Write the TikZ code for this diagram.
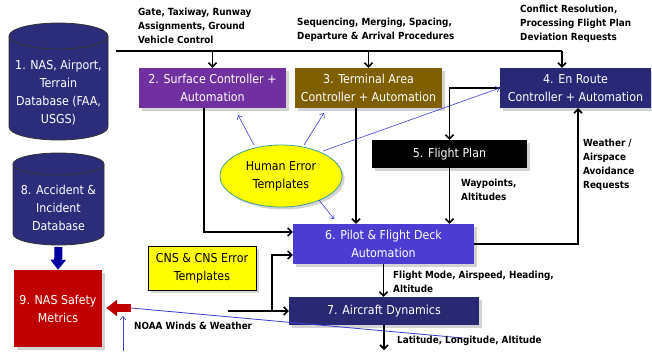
\documentclass[tikz,border=0pt]{standalone}
\usepackage{fontspec}
\setmainfont{DejaVu Sans Condensed}
\usetikzlibrary{arrows.meta,shapes.geometric,shadows,calc}
\definecolor{cylc}{RGB}{43,45,122}
\definecolor{c2}{RGB}{112,48,160}
\definecolor{c3}{RGB}{127,96,0}
\definecolor{c4}{RGB}{40,40,118}
\definecolor{c6}{RGB}{76,60,210}
\definecolor{c7}{RGB}{40,40,115}
\definecolor{c9}{RGB}{192,0,0}
\definecolor{yel}{RGB}{255,255,0}
\definecolor{teal2}{RGB}{60,160,150}
\definecolor{thinblue}{RGB}{60,60,210}
\definecolor{navyar}{RGB}{0,0,160}
\tikzset{
  base/.style={font=\fontsize{12.3}{18}\selectfont, align=center, inner sep=0pt},
  shad/.style={drop shadow={shadow xshift=2.5pt,shadow yshift=-2.5pt,opacity=0.35}},
  box/.style={base, rectangle, text=white, shad},
  lbl/.style={font=\bfseries\fontsize{9.8}{14}\selectfont, align=left, anchor=west, inner sep=0pt},
  conn/.style={draw=black, line width=1.6pt, -{Straight Barb[length=4pt,width=8pt]}},
  plain/.style={draw=black, line width=1.6pt},
  bl/.style={draw=thinblue, line width=0.6pt, -{Straight Barb[length=3.5pt,width=6pt]}},
  blplain/.style={draw=thinblue, line width=0.8pt},
  cylfill/.style={fill=cylc, draw=black!80, line width=0.8pt},
  cylline/.style={draw=black!80, line width=0.8pt},
  cyltext/.style={base, text=white},
}
\begin{document}
\begin{tikzpicture}[x=1pt,y=-1pt]
\useasboundingbox (0,0) rectangle (652,351);

% cylinder 1
\path[cylfill] (9,36) -- (9,127) arc[start angle=180,end angle=360,x radius=49.5pt,y radius=13pt]
  -- (108,36) arc[start angle=0,end angle=180,x radius=49.5pt,y radius=13pt] -- cycle;
\draw[cylline] (9,36) arc[start angle=180,end angle=360,x radius=49.5pt,y radius=13pt];
\node[cyltext] (n1) at (58.5,92.5) {1. NAS, Airport,\\Terrain\\Database (FAA,\\USGS)};

% cylinder 8
\path[cylfill] (13,164) -- (13,234) arc[start angle=180,end angle=360,x radius=45.5pt,y radius=11pt]
  -- (104,164) arc[start angle=0,end angle=180,x radius=45.5pt,y radius=11pt] -- cycle;
\draw[cylline] (13,164) arc[start angle=180,end angle=360,x radius=45.5pt,y radius=11pt];
\node[cyltext] (n8) at (58.5,208) {8. Accident \&\\Incident\\Database};
\coordinate (c8b) at (58.5,247);

% boxes
\node[box, fill=c2, minimum width=147pt, minimum height=40pt] (n2) at (212.5,88) {2. Surface Controller +\\Automation};
\node[box, fill=c3, minimum width=147pt, minimum height=40pt] (n3) at (368.5,88) {3. Terminal Area\\Controller + Automation};
\node[box, fill=c4, minimum width=151pt, minimum height=40pt] (n4) at (575.5,88) {4. En Route\\Controller + Automation};
\node[box, fill=black, minimum width=155pt, minimum height=28pt] (n5) at (449.5,154) {5. Flight Plan};
\node[box, fill=c6, minimum width=181pt, minimum height=40pt] (n6) at (383.5,244) {6. Pilot \& Flight Deck\\Automation};
\node[box, fill=c7, minimum width=190pt, minimum height=28pt] (n7) at (384,311) {7. Aircraft Dynamics};
\node[box, fill=c9, minimum width=88pt, minimum height=77pt] (n9) at (58,308.5) {9. NAS Safety\\Metrics};
\node[base, rectangle, fill=yel, draw=black, line width=0.6pt, shad, minimum width=108pt, minimum height=44pt] (cns) at (202,268) {CNS \& CNS Error\\Templates};
\node[base, ellipse, fill=yel, draw=teal2, line width=0.8pt, shad, minimum width=122pt, minimum height=62pt] (he) at (281,176) {Human Error\\Templates};

% top bus
\coordinate (tl) at (116,51);
\coordinate (tr) at (562,51);
\draw[plain] (tl) -- (tr);
\draw[conn] (n2.north |- tl) -- (n2.north);
\draw[conn] (n3.north |- tl) -- (n3.north);
\draw[conn] (tr) -- (tr |- n4.north);

% connectors
\coordinate (s2) at (204,108);
\coordinate (s3) at (356,108);
\draw[conn] (s2) |- (n6.west |- 0,232);
\draw[conn] (s3) -- (s3 |- n6.north);
\draw[conn] (n4.west) -| (n5.north);
\draw[conn] (n5.south) -- (n5.south |- n6.north);
\coordinate (u4) at (578,108);
\draw[conn] (n6.east) -| (u4);
\draw[conn] (n6.south) -- (n6.south |- n7.north);
\coordinate (out7) at (384,350);
\draw[conn] (n7.south) -- (out7);
\coordinate (nw) at (228,311);
\coordinate (jn) at (272,311);
\draw[conn] (nw) -- (n7.west);
\draw[conn] (jn) |- (n6.west |- 0,255);

% thin blue
\coordinate (e2) at (238,115);
\coordinate (e3) at (324,113);
\coordinate (e6) at (334,219);
\draw[bl] (254,145) -- (e2);
\draw[bl] (304,145) -- (e3);
\draw[bl] (319,200) -- (e6);
\draw[bl] (323,151) -- (n4.west);
\coordinate (ra) at (131,308);
\coordinate (rb) at (463,338);
\draw[blplain] (ra) -- (rb);
\coordinate (ub) at (123,351);
\coordinate (ut) at (123,316);
\draw[bl] (ub) -- (ut);

% block arrows
\draw[draw=navyar, line width=8pt, -{Triangle[length=10pt,width=15pt]}] (c8b) -- (n9.north);
\draw[draw=c9, line width=8pt, -{Triangle[length=11pt,width=16pt]}] (ra) -- ([xshift=4pt]n9.east |- ra);

% labels
\node[lbl] (l1) at (138,26) {Gate, Taxiway, Runway\\Assignments, Ground\\Vehicle Control};
\node[lbl] (l2) at (297,30) {Sequencing, Merging, Spacing,\\Departure \& Arrival Procedures};
\node[lbl] (l3) at (520,24) {Conflict Resolution,\\Processing Flight Plan\\Deviation Requests};
\node[lbl] (l4) at (583,164.5) {Weather /\\Airspace\\Avoidance\\Requests};
\node[lbl] (l5) at (461,190) {Waypoints,\\Altitudes};
\node[lbl] (l6) at (393,281.5) {Flight Mode, Airspeed, Heading,\\Altitude};
\node[lbl] (l7) at (397,341) {Latitude, Longitude, Altitude};
\node[lbl] (l8) at (134,326) {NOAA Winds \& Weather};
\end{tikzpicture}
\end{document}
